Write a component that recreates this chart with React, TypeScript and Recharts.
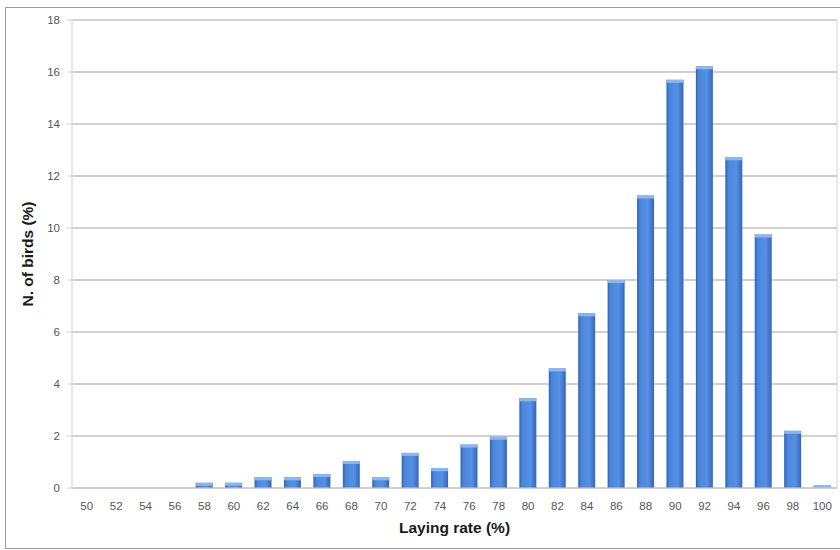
import { Bar, BarChart, CartesianGrid, XAxis, YAxis, Label } from 'recharts';

// laying rate classes (%) and share of birds (%) in each
const rates = [50, 52, 54, 56, 58, 60, 62, 64, 66, 68, 70, 72, 74, 76, 78, 80, 82, 84, 86, 88, 90, 92, 94, 96, 98, 100];
const birds = [0, 0, 0, 0, 0.2, 0.2, 0.41, 0.41, 0.54, 1.04, 0.41, 1.35, 0.76, 1.67, 1.97, 3.45, 4.6, 6.72, 8.0, 11.25, 15.7, 16.22, 12.72, 9.75, 2.2, 0.1];
const yTicks = [0, 2, 4, 6, 8, 10, 12, 14, 16, 18];

const data = rates.map((r, i) => ({ rate: r, birds: birds[i] }));

const font = '"Liberation Sans", Arial, sans-serif';

function BarShape(props: any) {
  const { x, y, width, height } = props;
  if (!height || height <= 0) return null;
  const cap = Math.min(3, height);
  return (
    <g>
      <rect x={x} y={y} width={width} height={height} fill="url(#barFill)" />
      <rect x={x} y={y} width={width} height={cap} fill="#8fb6ec" />
    </g>
  );
}

export default function App() {
  return (
    <div style={{ position: 'absolute', left: 0, top: 0, width: 840, height: 550, background: '#fff' }}>
      <div style={{ position: 'absolute', left: 5, top: 7, width: 840, height: 540, border: '1px solid #9a9a9a' }} />
      <div style={{ position: 'absolute', left: 0, top: 0 }}>
        <BarChart width={840} height={550} data={data} margin={{ top: 20, right: 3, bottom: 0, left: 0 }} barSize={17}>
          <defs>
            <linearGradient id="barFill" x1="0" y1="0" x2="1" y2="0">
              <stop offset="0%" stopColor="#2f63b6" />
              <stop offset="18%" stopColor="#4a86dc" />
              <stop offset="65%" stopColor="#5690e3" />
              <stop offset="100%" stopColor="#3466bb" />
            </linearGradient>
          </defs>
          <CartesianGrid vertical={false} stroke="#a3a3a3" />
          <CartesianGrid
            horizontal={false}
            stroke="#d4d4d4"
            verticalCoordinatesGenerator={({ offset }: any) => [offset.left + offset.width]}
          />
          <XAxis
            dataKey="rate"
            height={62}
            interval={0}
            tickLine={false}
            axisLine={{ stroke: '#cfcfcf' }}
            tick={{ fill: '#555', fontSize: 11.5, fontFamily: font }}
            tickMargin={8}
          >
            <Label value="Laying rate (%)" position="insideBottom" offset={17} style={{ fill: '#1a1a1a', fontSize: 15.5, fontWeight: 'bold', fontFamily: font }} />
          </XAxis>
          <YAxis
            width={72}
            domain={[0, 18]}
            ticks={yTicks}
            interval={0}
            tickSize={5}
            tickMargin={7}
            tickLine={{ stroke: '#cfcfcf' }}
            axisLine={{ stroke: '#cfcfcf' }}
            tick={{ fill: '#555', fontSize: 11.5, fontFamily: font }}
          >
            <Label value="N. of birds (%)" angle={-90} position="insideLeft" offset={27} style={{ textAnchor: 'middle', fill: '#1a1a1a', fontSize: 15.5, fontWeight: 'bold', fontFamily: font }} />
          </YAxis>
          <Bar dataKey="birds" shape={BarShape} isAnimationActive={false} />
        </BarChart>
      </div>
    </div>
  );
}
